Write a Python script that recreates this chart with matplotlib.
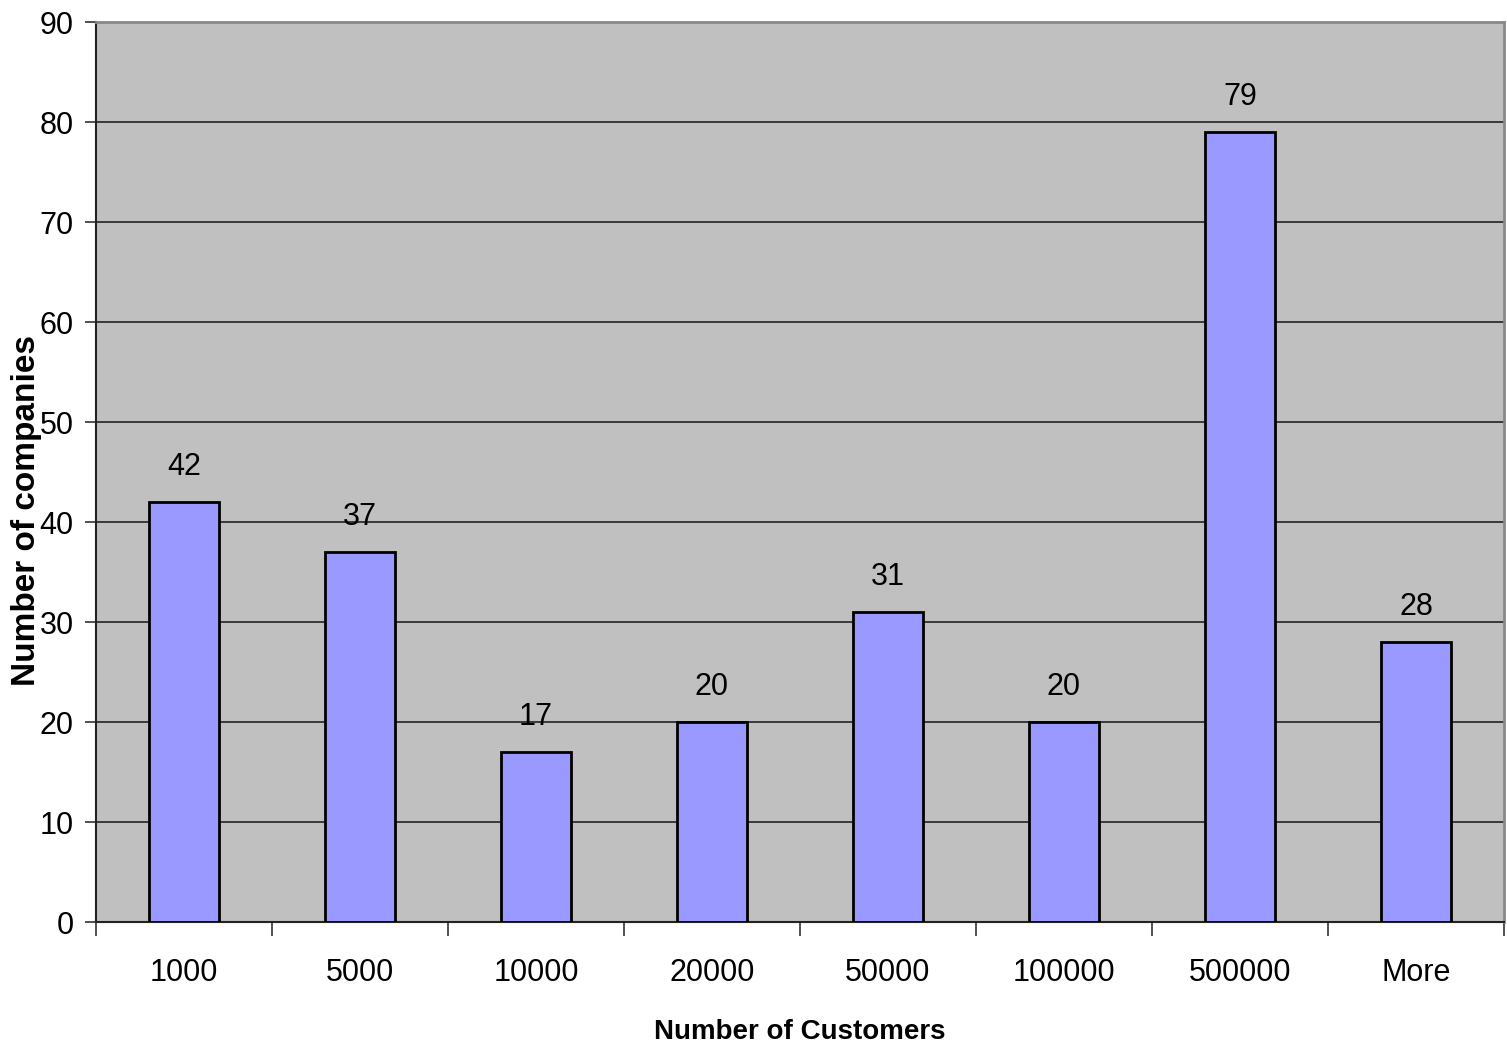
import numpy as np
import matplotlib.pyplot as plt
from matplotlib import font_manager

categories = ['1000', '5000', '10000', '20000', '50000', '100000', '500000', 'More']
companies = [42, 37, 17, 20, 31, 20, 79, 28]

names = {f.name for f in font_manager.fontManager.ttflist}
fam = ['Liberation Sans Narrow', 'Liberation Sans', 'DejaVu Sans']
fam = [f for f in fam if f in names] or ['DejaVu Sans']
plt.rcParams['font.family'] = fam

fig = plt.figure(figsize=(15.07, 10.52), dpi=100)
ax = fig.add_axes([96 / 1507, 1 - 922 / 1052, 1408 / 1507, 900 / 1052])
ax.set_facecolor('#C0C0C0')

x = np.arange(len(categories))
ax.bar(x, companies, width=0.4, color='#9999FF', edgecolor='black', linewidth=2, zorder=3)
for xi, v in zip(x, companies):
    ax.text(xi, v + 2.7, str(v), ha='center', va='baseline', fontsize=22, zorder=4)

ax.set_xlim(-0.5, len(categories) - 0.5)
ax.set_ylim(0, 90)
ax.set_yticks(np.arange(0, 91, 10))
ax.yaxis.grid(True, color='#222222', linewidth=1.2, zorder=1)
ax.set_axisbelow(True)

# category labels sit between boundary ticks
ax.set_xticks(np.arange(-0.5, len(categories), 1))
ax.set_xticklabels([])
ax.set_xticks(x, minor=True)
ax.set_xticklabels(categories, minor=True, fontsize=22)
ax.tick_params(axis='x', which='minor', length=0, pad=26)
ax.tick_params(axis='x', which='major', length=10, width=1.2, color='#333333', direction='out')
ax.tick_params(axis='y', length=8, width=1.2, color='#333333', labelsize=22, pad=8)

for s in ['top', 'right']:
    ax.spines[s].set_color('#888888')
    ax.spines[s].set_linewidth(2)
for s in ['left', 'bottom']:
    ax.spines[s].set_color('#222222')
    ax.spines[s].set_linewidth(1.5)

ax.set_xlabel('Number of Customers', fontsize=20, fontweight='bold', va='center')
ax.xaxis.set_label_coords(0.5, (922 - 1032) / 900)
ax.set_ylabel('Number of companies', fontsize=24, fontweight='bold', va='center')
ax.yaxis.set_label_coords((27 - 96) / 1408, (922 - 510) / 900)

fig.savefig('out.png', dpi=100)
